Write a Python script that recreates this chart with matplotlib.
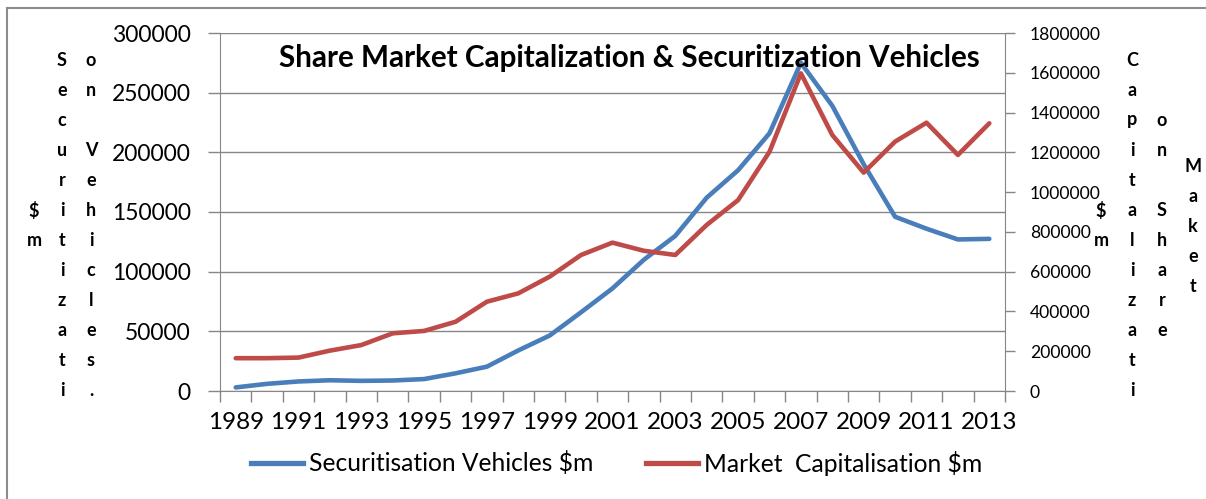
import numpy as np
import matplotlib.pyplot as plt
from matplotlib.lines import Line2D

# Data
years = list(range(1989, 2014))
securitisation = [3000, 6000, 8000, 9000, 8500, 8800, 10000, 14800, 20400, 34000,
                  46500, 66000, 86000, 110000, 130000, 162000, 185000, 216000,
                  275000, 239000, 190000, 146000, 136000, 127000, 127500]
market_cap = [165000, 165000, 168000, 203000, 231000, 290000, 302000, 348000,
              449000, 491000, 575000, 684000, 746000, 705000, 684000, 835000,
              960000, 1203000, 1597000, 1287000, 1098000, 1254000, 1349000,
              1187000, 1346000]
left_ticks = [0, 50000, 100000, 150000, 200000, 250000, 300000]
right_ticks = [0, 200000, 400000, 600000, 800000, 1000000, 1200000, 1400000,
               1600000, 1800000]
year_labels = [str(y) for y in years[::2]]

W, H = 1206, 499
BLUE = '#4a7ebb'
RED = '#be4b48'
GRAY = '#868686'

plt.rcParams['font.family'] = ['Lato', 'DejaVu Sans']

fig = plt.figure(figsize=(W / 100, H / 100), dpi=100)
ax = fig.add_axes([220 / W, 1 - 391 / H, 785 / W, 358 / H])

x = np.arange(len(years))
ax.plot(x, securitisation, color=BLUE, lw=3.3, solid_joinstyle='round',
        solid_capstyle='round', zorder=3)
ax.set_xlim(-0.5, len(years) - 0.5)
ax.set_ylim(0, 300000)
ax.set_yticks(left_ticks)
ax.set_yticklabels([str(t) for t in left_ticks])
ax.yaxis.grid(True, color=GRAY, lw=1)
ax.set_axisbelow(True)

# category boundaries get the tick marks, labels sit on every other year
ax.set_xticks(np.arange(-0.5, len(years), 1))
ax.set_xticklabels([])
ax.set_xticks(x[::2], minor=True)
ax.set_xticklabels(year_labels, minor=True, fontsize=17.5)
ax.tick_params(axis='x', which='major', length=8, color=GRAY, width=1)
ax.tick_params(axis='x', which='minor', length=0, pad=15)
ax.tick_params(axis='y', length=9, color=GRAY, width=1, labelsize=16.5, pad=12)

for side in ['top', 'right']:
    ax.spines[side].set_visible(False)
for side in ['left', 'bottom']:
    ax.spines[side].set_color(GRAY)

ax2 = ax.twinx()
ax2.plot(x, market_cap, color=RED, lw=3.3, solid_joinstyle='round',
         solid_capstyle='round', zorder=3)
ax2.set_ylim(0, 1800000)
ax2.set_yticks(right_ticks)
ax2.set_yticklabels([str(t) for t in right_ticks])
ax2.tick_params(axis='y', length=7, color=GRAY, width=1, labelsize=12.6, pad=11)
for side in ['top', 'left', 'bottom']:
    ax2.spines[side].set_visible(False)
ax2.spines['right'].set_color(GRAY)

ax.text(0.522, 0.93, 'Share Market Capitalization & Securitization Vehicles',
        transform=ax.transAxes, ha='center', va='center', fontsize=21.3,
        fontweight='bold', zorder=5)


# stacked, letter-by-letter axis titles
def stacked(text, px, py0, step=30):
    for i, ch in enumerate(text):
        if ch.strip():
            fig.text(px / W, 1 - (py0 + i * step) / H, ch, ha='center',
                     va='center', fontsize=13, fontweight='bold')


stacked('$m', 34, 211)
stacked('Securitizati', 62, 60)
stacked('on Vehicles.', 91, 60)
stacked('$m', 1101, 211)
stacked('Capitalizati', 1132, 60)
stacked('on Share', 1162, 121)
stacked('Maket', 1193, 166)

# legend under the plot
handles = [Line2D([], [], color=BLUE, lw=3.8),
           Line2D([], [], color=RED, lw=3.8)]
fig.legend(handles, ['Securitisation Vehicles $m', 'Market  Capitalisation $m'],
           loc='center', bbox_to_anchor=(617 / W, 1 - 463 / H), ncol=2,
           frameon=False, prop={'size': 17.7},
           handlelength=2.1, handletextpad=0.25, columnspacing=2.15)

# outer frame: only left and top edges show in the crop
fig.add_artist(Line2D([7 / W, 7 / W], [0, 1 - 8 / H], color='#8c8c8c', lw=1.5,
                      transform=fig.transFigure))
fig.add_artist(Line2D([7 / W, 1], [1 - 8 / H, 1 - 8 / H], color='#8c8c8c',
                      lw=1.5, transform=fig.transFigure))

fig.savefig('out.png', dpi=100)
